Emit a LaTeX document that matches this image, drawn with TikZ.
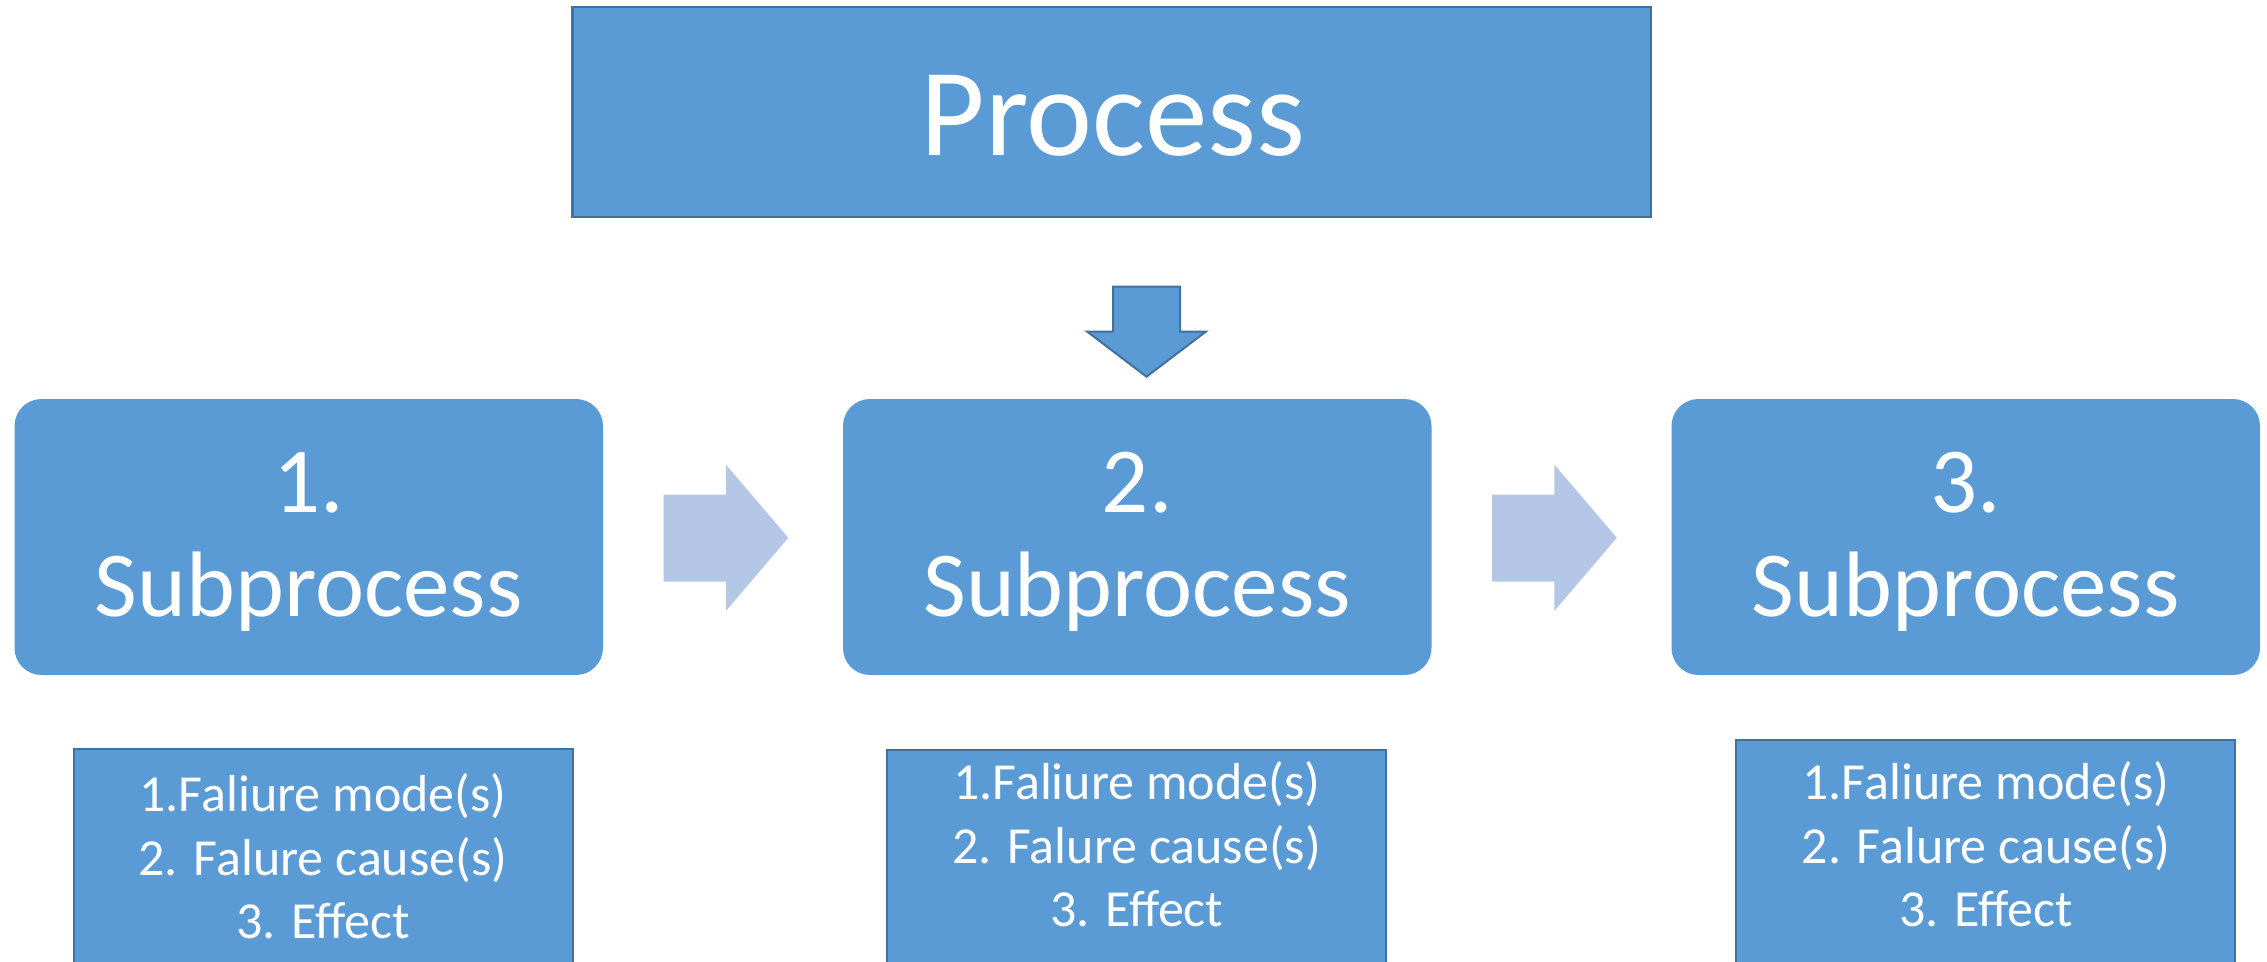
\documentclass[tikz,border=0pt]{standalone}
\usepackage{fontspec}
\setmainfont{Carlito}
\definecolor{boxblue}{HTML}{5B9BD5}
\definecolor{edgeblue}{HTML}{41719C}
\definecolor{paleblue}{HTML}{B4C7E7}

\begin{document}
\begin{tikzpicture}[x=1pt,y=-1pt,
  procbox/.style={draw=edgeblue, line width=2.5pt, fill=boxblue, outer sep=0pt, inner sep=0pt, anchor=north west},
  subbox/.style={fill=boxblue, rounded corners=27pt, outer sep=0pt, inner sep=0pt, anchor=north west,
                 minimum width=588.5pt, minimum height=276pt},
  listbox/.style={draw=edgeblue, line width=2pt, fill=boxblue, outer sep=0pt, inner sep=0pt, anchor=north west,
                  minimum width=499pt, minimum height=240pt},
  blockarrow/.style={fill=paleblue},
  downarrow/.style={draw=edgeblue, line width=2pt, fill=boxblue, line join=miter},
  bigtext/.style={text=white, font=\fontsize{125}{150}\selectfont, inner sep=0pt, anchor=base},
  subtext/.style={text=white, font=\fontsize{93}{104}\selectfont, inner sep=0pt, anchor=base},
  listtext/.style={text=white, font=\fontsize{52}{64}\selectfont, inner sep=0pt, anchor=base},
]
\useasboundingbox (0,0) rectangle (2267,961);

% top process box
\node[procbox, minimum width=1078.5pt, minimum height=210pt] (proc) at (572.5,7) {};
\node[bigtext] (proctext) at (1113,155) {Process};

% down arrow from the process to the subprocess row
\draw[downarrow] (1113,286.5) -- (1180,286.5) -- (1180,331.5) -- (1206,331.5)
  -- (1146.5,376.7) -- (1087,331.5) -- (1113,331.5) -- cycle;

% subprocess boxes
\node[subbox] (sub1) at (14.5,399) {};
\node[subbox] (sub2) at (843,399) {};
\node[subbox] (sub3) at (1671.5,399) {};
\foreach \i/\cx in {1/308.75, 2/1137.25, 3/1965.75}{
  \node[subtext] (sub\i num) at (\cx,512.7) {\i.};
  \node[subtext] (sub\i name) at (\cx,616.7) {Subprocess};
}

% block arrows between subprocesses
\foreach \dx in {0, 828.5}{
  \fill[blockarrow, xshift=\dx pt] (663.6,494.5) -- (725.8,494.5) -- (725.8,464.5) -- (788.3,537.8)
    -- (725.8,611) -- (725.8,581.5) -- (663.6,581.5) -- cycle;
}

% failure lists under each subprocess
\node[listbox] (list1) at (73.7,749) {};
\node[listbox] (list2) at (886.5,750) {};
\node[listbox] (list3) at (1736,740) {};
\foreach \i/\cx/\ya/\yb/\yc in {1/323/811/875/938.5, 2/1136.7/799.5/863.3/926.7, 3/1986/799/863/926.5}{
  \node[listtext] (list\i a) at (\cx,\ya) {1.Faliure mode(s)};
  \node[listtext] (list\i b) at (\cx,\yb) {2. Falure cause(s)};
  \node[listtext] (list\i c) at (\cx,\yc) {3. Effect};
}
\end{tikzpicture}
\end{document}
